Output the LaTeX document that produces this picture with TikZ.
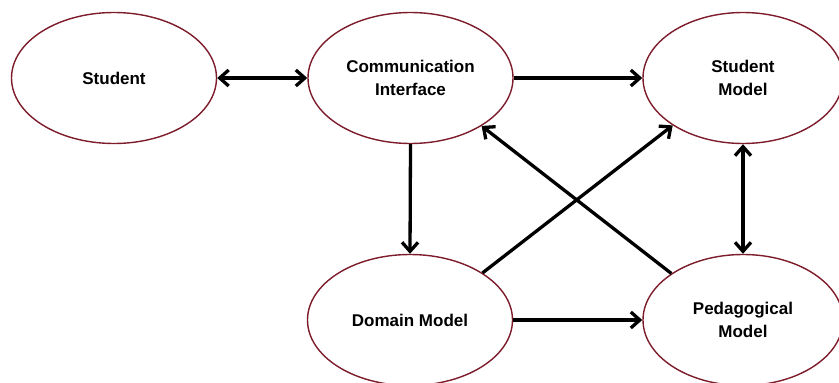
\documentclass[tikz,border=0pt]{standalone}
\usepackage{fontspec}
\setmainfont{Liberation Sans}
\usetikzlibrary{arrows.meta,shapes.geometric}
\definecolor{ellred}{RGB}{125,28,42}
\tikzset{
  oval/.style={ellipse, draw=ellred, line width=1.4pt, fill=white, inner sep=0pt,
    minimum width=205pt, minimum height=131pt, align=center,
    font=\fontsize{17}{22.5}\selectfont\bfseries},
  tip/.tip={Straight Barb[length=9pt,width=16pt]},
  conn/.style={line width=3.3pt, -tip},
  biconn/.style={line width=3.3pt, tip-tip}
}
\begin{document}
\begin{tikzpicture}[x=1pt,y=-1pt]
\useasboundingbox (0,0) rectangle (839,383);
\clip (0,0) rectangle (839,383);
\node[oval] (st) at (114,78) {Student};
\node[oval] (ci) at (410.5,78) {Communication\\Interface};
\node[oval, minimum width=200pt] (sm) at (743,78) {Student\\Model};
\node[oval] (dm) at (410,320) {Domain Model};
\node[oval, minimum width=200pt] (pm) at (743,320) {Pedagogical\\Model};
\draw[biconn] (st.east) -- (ci.west);
\draw[conn] (ci.east) -- (sm.west);
\draw[conn] (ci.south) -- (dm.north);
\draw[conn] (dm.east) -- (pm.west);
\draw[biconn] (sm.south) -- (pm.north);
\draw[conn] (dm.33) -- (sm.214);
\draw[conn] (pm.147) -- (ci.326);
\end{tikzpicture}
\end{document}
